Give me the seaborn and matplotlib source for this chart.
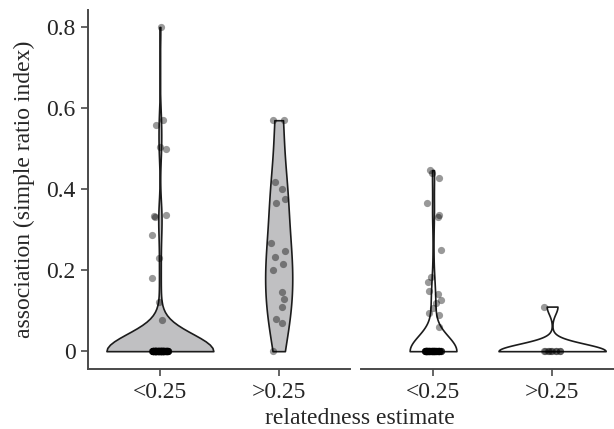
import numpy as np
import pandas as pd
import matplotlib
matplotlib.use("Agg")
import matplotlib.pyplot as plt
import seaborn as sns

# ---- data ----
categories = ["<0.25", ">0.25"]

# left panel
left_low_nonzero = [0.80, 0.57, 0.557, 0.503, 0.50, 0.336, 0.334, 0.332, 0.286, 0.23, 0.18, 0.122, 0.077]
left_low_zero_count = 120
left_high = [0.57, 0.57, 0.418, 0.40, 0.375, 0.366, 0.267, 0.248, 0.232, 0.215, 0.20,
             0.146, 0.128, 0.108, 0.079, 0.07, 0.0]

# right panel
right_low_nonzero = [0.447, 0.44, 0.427, 0.365, 0.336, 0.33, 0.25, 0.183, 0.17, 0.148, 0.14,
                     0.126, 0.12, 0.106, 0.094, 0.09, 0.06]
right_low_zero_count = 75
right_high_nonzero = [0.11]
right_high_zero_count = 10

y_ticks = [0, 0.2, 0.4, 0.6, 0.8]
y_ticklabels = ["0", "0.2", "0.4", "0.6", "0.8"]


def make_df(low, high):
    return pd.DataFrame({
        "rel": [categories[0]] * len(low) + [categories[1]] * len(high),
        "assoc": list(low) + list(high),
    })


left_df = make_df(left_low_nonzero + [0.0] * left_low_zero_count, left_high)
right_df = make_df(right_low_nonzero + [0.0] * right_low_zero_count,
                   right_high_nonzero + [0.0] * right_high_zero_count)

sns.set_style("ticks")
plt.rcParams["font.family"] = ["Liberation Serif", "DejaVu Serif"]

np.random.seed(3)

W, H = 614, 429
fig = plt.figure(figsize=(W / 100, H / 100), dpi=100)

ylim = (-0.044, 0.842)
ax_l = fig.add_axes([88 / W, 1 - 369 / H, 262 / W, 359 / H])
ax_r = fig.add_axes([361 / W, 1 - 369 / H, 253 / W, 359 / H])

edge = "#1c1c1c"
spine_c = "#4a4a4a"
fs = 17

for ax, df, fill in [(ax_l, left_df, "#c0c0c2"), (ax_r, right_df, "white")]:
    sns.violinplot(data=df, x="rel", y="assoc", order=categories, color=fill,
                   inner=None, cut=0, density_norm="area", width=0.9,
                   linewidth=1.2, linecolor=edge, bw_adjust=0.9, ax=ax)
    sns.stripplot(data=df, x="rel", y="assoc", order=categories, color="black",
                  alpha=0.4, size=5.2, jitter=0.07, linewidth=0, ax=ax, zorder=3)
    ax.set_ylim(*ylim)
    ax.set_xlabel("")
    ax.set_ylabel("")
    ax.set_xticks([0, 1])
    ax.set_xticklabels(categories, fontsize=fs)
    for s in ["top", "right"]:
        ax.spines[s].set_visible(False)
    ax.spines["bottom"].set_color(spine_c)
    ax.spines["bottom"].set_linewidth(1.4)
    ax.tick_params(axis="x", length=5, width=1.2, color=spine_c, pad=4)
    ax.patch.set_visible(False)

ax_l.set_xlim(-0.605, 1.6)
ax_r.set_xlim(-0.605, 1.52)

ax_l.set_yticks(y_ticks)
ax_l.set_yticklabels(y_ticklabels, fontsize=fs)
ax_l.spines["left"].set_color(spine_c)
ax_l.spines["left"].set_linewidth(1.4)
ax_l.tick_params(axis="y", length=5, width=1.2, color=spine_c, pad=4)
ax_l.set_ylabel("association (simple ratio index)", fontsize=fs, labelpad=8)

ax_r.spines["left"].set_visible(False)
ax_r.set_yticks([])

fig.text(360 / W, 1 - 418 / H, "relatedness estimate", ha="center", va="center", fontsize=fs)

fig.savefig("out.png", dpi=100)
